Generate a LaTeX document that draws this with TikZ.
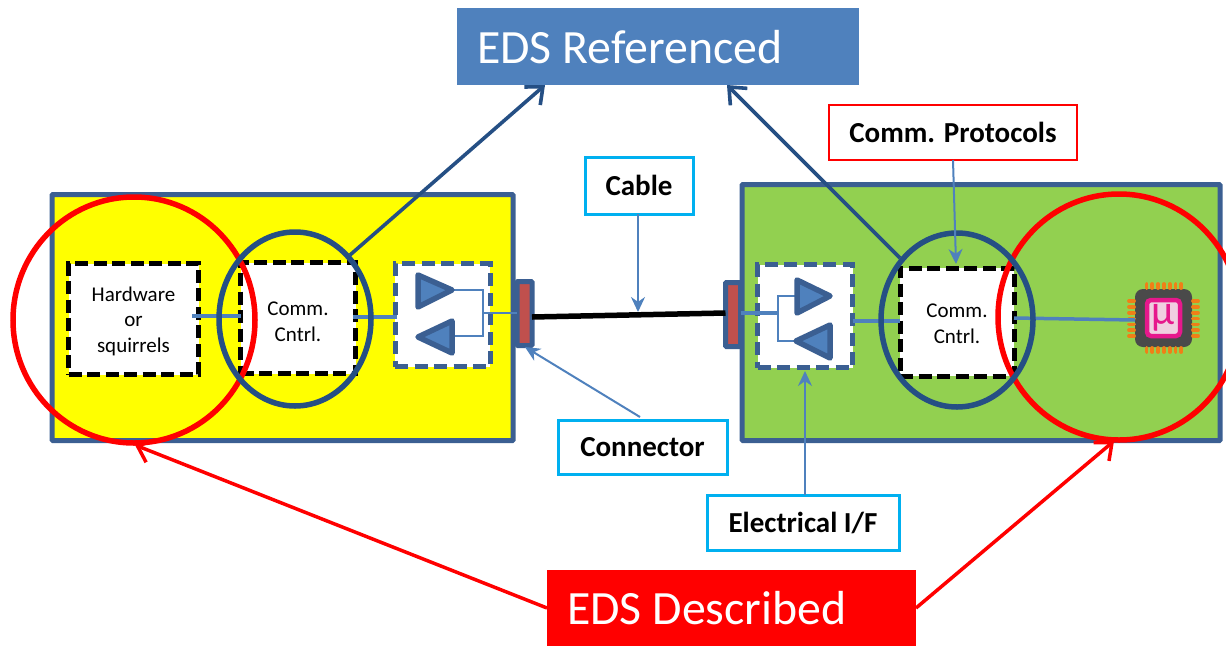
\documentclass[tikz,border=0pt]{standalone}
\usepackage{fontspec}
\setmainfont{Carlito}
\usetikzlibrary{arrows.meta,shapes.geometric}
\definecolor{frame}{HTML}{3B5F92}
\definecolor{dkblue}{HTML}{254F84}
\definecolor{wire}{HTML}{4F81BD}
\definecolor{cyanb}{HTML}{00B0F0}
\definecolor{greenf}{HTML}{92D050}
\definecolor{conred}{HTML}{C0504D}
\definecolor{pinor}{HTML}{F07F17}
\definecolor{chipg}{HTML}{4A4A4A}
\definecolor{chipm}{HTML}{E6188C}
\definecolor{chipl}{HTML}{F0CFE0}
\definecolor{pureyellow}{HTML}{FFFF00}
\definecolor{purered}{HTML}{FF0000}
\tikzset{
  x=1pt,y=-1pt,
  rectbox/.style={rectangle,inner sep=0pt,outer sep=0pt,anchor=north west,align=center},
  board/.style={rectbox,draw=frame,line width=5pt,rounded corners=0.8pt},
  blackdash/.style={rectbox,fill=white,draw=black,line width=5pt,dash pattern=on 13pt off 5.5pt,align=center,font=\fontsize{21}{25.5}\selectfont},
  bluedash/.style={rectbox,fill=white,draw=frame,line width=5pt,dash pattern=on 13pt off 6.5pt},
  titlebox/.style={rectbox,text=white},
  titletext/.style={font=\fontsize{47.8}{50}\selectfont,text=white,anchor=west,inner sep=0pt},
  labelcyan/.style={rectbox,fill=white,draw=cyanb,line width=3pt,font=\fontsize{29}{30}\selectfont\bfseries},
  labelred/.style={rectbox,fill=white,draw=purered,line width=2.2pt,font=\fontsize{29}{30}\selectfont\bfseries},
  redring/.style={ellipse,draw=purered,line width=5.5pt,inner sep=0pt,outer sep=0pt},
  bluering/.style={ellipse,draw=dkblue,line width=5.5pt,inner sep=0pt,outer sep=0pt},
  conn/.style={rectbox,fill=conred,draw=frame,line width=5pt,rounded corners=1pt},
  amp/.style={fill=wire,draw=frame,line width=5.5pt,line join=round},
  thinw/.style={draw=wire,line width=1.8pt},
  wire3/.style={draw=wire,line width=3.5pt},
  thinarr/.style={draw=wire,line width=2pt,-{Stealth[length=15pt,width=14pt]}},
  darkarr/.style={draw=dkblue,line width=3.6pt,-{Straight Barb[length=14pt,width=24pt,line width=3.6pt]}},
  redarr/.style={draw=purered,line width=3.5pt,-{Straight Barb[length=14pt,width=24pt,line width=3.5pt]}},
  pin/.style={draw=pinor,line width=3.8pt,line cap=round},
}
\begin{document}
\begin{tikzpicture}
\useasboundingbox (0,0) rectangle (1226,646);
\begin{scope}
\clip (0,0) rectangle (1226,646);
% boards
\node[board,fill=pureyellow,minimum width=461pt,minimum height=246pt] (yb) at (52,194.5) {};
\node[board,fill=greenf,minimum width=478pt,minimum height=256pt] (gb) at (742,184.5) {};
% inner dashed boxes
\node[blackdash,minimum width=130pt,minimum height=111pt] (hw) at (68.5,263.5) {\rule{0pt}{19pt}Hardware\\or\\squirrels};
\node[blackdash,minimum width=115pt,minimum height=111pt] (cl) at (240.5,262.5) {\rule{0pt}{21pt}Comm.\\Cntrl.};
\node[blackdash,minimum width=114pt,minimum height=108pt] (cr) at (900,268) {\rule{0pt}{17pt}Comm.\\Cntrl.};
\node[bluedash,minimum width=95pt,minimum height=103pt] (il) at (395,263.5) {};
\node[bluedash,minimum width=95pt,minimum height=103pt] (ir) at (757.5,264.5) {};
% connectors blocks
\node[conn,minimum width=15pt,minimum height=64pt] (pl) at (517,281.5) {};
\node[conn,minimum width=15pt,minimum height=64pt] (pr) at (725.5,282.5) {};
% cable
\draw[black,line width=5.5pt] (pl.east |- 0,317) coordinate (cs) -- (pr.west |- 0,313) coordinate (ce);
% coordinates of the amplifiers
\coordinate (la1) at (418,275); \coordinate (la2) at (418,307); \coordinate (la3) at (452,290);
\coordinate (lb1) at (452,321); \coordinate (lb2) at (452,353); \coordinate (lb3) at (418,337);
\coordinate (ra1) at (797,280); \coordinate (ra2) at (797,313); \coordinate (ra3) at (830,296);
\coordinate (rb1) at (830,325); \coordinate (rb2) at (830,358); \coordinate (rb3) at (796,341);
% wiring
\draw[thinw] (la3) -- (483,290) -- (483,336) -- (452,336);
\draw[thinw] (483,313) -- (pl.west |- 0,313);
\draw[thinw] (ra3 -| ra1) -- (778,296) -- (778,341) -- (rb3);
\draw[wire3] (pr.east |- 0,313) -- (778,313);
\draw[amp] (la1) -- (la2) -- (la3) -- cycle;
\draw[amp] (lb1) -- (lb2) -- (lb3) -- cycle;
\draw[amp] (ra1) -- (ra2) -- (ra3) -- cycle;
\draw[amp] (rb1) -- (rb2) -- (rb3) -- cycle;
% chip
\node[rectbox,fill=chipg,rounded corners=8pt,minimum width=57pt,minimum height=58pt] (chip) at (1135,289) {};
\foreach \i in {0,...,6}{
  \pgfmathsetmacro{\px}{1146.5+5.8*\i}
  \pgfmathsetmacro{\py}{301+5.85*\i}
  \draw[pin] (\px,284) -- (\px,288);
  \draw[pin] (\px,348) -- (\px,352);
  \draw[pin] (1129,\py) -- (1134,\py);
  \draw[pin] (1193,\py) -- (1198,\py);
}
\node[rectbox,fill=chipl,draw=chipm,line width=4.5pt,rounded corners=4pt,minimum width=33pt,minimum height=36pt,text=chipm,font=\fontsize{42}{42}\selectfont] (mu) at (1147,300) {µ};
% wires
\draw[wire3] (192,316) -- (cl.west |- 0,316);
\draw[wire3] (353,317) -- (397,317);
\draw[wire3] (ir.east |- 0,321) -- (cr.west |- 0,321);
\draw[wire3] (cr.east |- 0,318) -- (chip.west |- 0,320);
% rings
\node[redring,minimum width=242pt,minimum height=246pt] (rl) at (134,320) {};
\node[redring,minimum width=242pt,minimum height=246pt] (rr) at (1119,317) {};
\node[bluering,minimum width=152pt,minimum height=174pt] (el) at (295,319) {};
\node[bluering,minimum width=152pt,minimum height=174pt] (er) at (957,320) {};
% titles
\node[titlebox,fill=wire,minimum width=402pt,minimum height=77pt] (ref) at (457,8) {};
\node[titletext] (reft) at (477,47) {EDS Referenced};
\node[titlebox,fill=purered,minimum width=369pt,minimum height=76pt] (des) at (547,570) {};
\node[titletext] (dest) at (567,608) {EDS Described};
% labels
\node[labelcyan,minimum width=108pt,minimum height=57pt] (cab) at (585,157) {Cable};
\node[labelcyan,minimum width=169pt,minimum height=54pt] (con) at (558,420) {Connector};
\node[labelcyan,minimum width=192pt,minimum height=55pt] (ele) at (707,495) {Electrical I/F};
\node[labelred,minimum width=248pt,minimum height=55pt] (pro) at (829,105) {Comm. Protocols};
% arrows
\coordinate (catip) at (638,312);
\draw[thinarr] (cab.south -| catip) -- (catip);
\coordinate (cotail) at (640,417); \coordinate (cotip) at (525,347);
\draw[thinarr] (cotail) -- (cotip);
\coordinate (eltip) at (805,371);
\draw[thinarr] (ele.north -| eltip) -- (eltip);
\coordinate (prtail) at (953,160); \coordinate (prtip) at (956,264);
\draw[thinarr] (prtail) -- (prtip);
\coordinate (dl) at (350,255); \coordinate (dlt) at (545,85);
\draw[darkarr] (dl) -- (dlt);
\coordinate (dr) at (900,258); \coordinate (drt) at (727,85);
\draw[darkarr] (dr) -- (drt);
\coordinate (rlt) at (135,445);
\draw[redarr] (des.west |- 0,608) -- (rlt);
\coordinate (rrt) at (1114,441);
\draw[redarr] (des.east |- 0,608) -- (rrt);
\end{scope}
\end{tikzpicture}
\end{document}
